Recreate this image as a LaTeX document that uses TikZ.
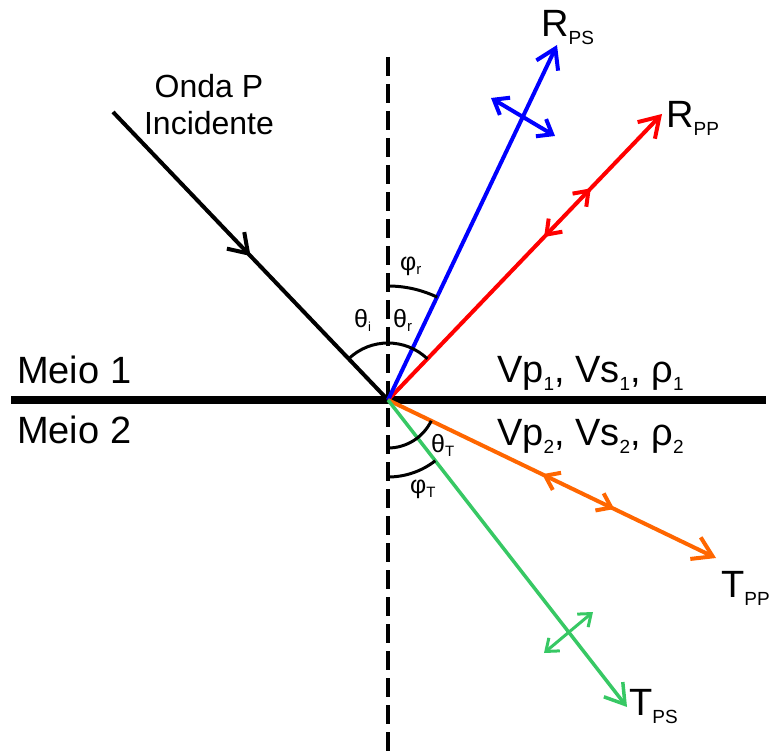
\documentclass[tikz,border=0pt]{standalone}
\usepackage{fontspec}
\setmainfont{Liberation Sans}
\usetikzlibrary{arrows.meta,decorations.markings}
\definecolor{myorange}{RGB}{255,102,0}
\definecolor{mygreen}{RGB}{55,200,100}
\newcommand\sbx[3][19]{\raisebox{-#2pt}{\fontsize{#1}{#1}\selectfont #3}}
\begin{document}
\begin{tikzpicture}[x=1pt,y=-1pt,
  lbl/.style={inner sep=0pt,anchor=base west,font=\fontsize{38}{44}\selectfont},
  anglbl/.style={inner sep=0pt,anchor=base west,font=\fontsize{25}{28}\selectfont},
  ray/.style={line width=4pt},
  bigtip/.tip={Straight Barb[length=19pt,width=24pt]},
  midtip/.tip={Straight Barb[length=13pt,width=19pt]},
  smalltip/.tip={Straight Barb[length=13pt,width=20pt]},
  arcline/.style={line width=3pt},
]
\useasboundingbox (0,0) rectangle (771,751);
\coordinate (O) at (388,400);
\coordinate (A) at (113,112);
\coordinate (Rps) at (557,45);
\coordinate (Rpp) at (662,114);
\coordinate (Tpp) at (716,558);
\coordinate (Tps) at (627,707);
\coordinate (Ltop) at (388,57);
\coordinate (Lbot) at (388,751);
\coordinate (Hl) at (11,400);
\coordinate (Hr) at (766,400);
\coordinate (b1) at (491,98);
\coordinate (b2) at (555,136);
\coordinate (g1) at (544,653);
\coordinate (g2) at (593,612);

% interface and normal
\draw[line width=3.5pt,dash pattern=on 19pt off 8pt] (Ltop) -- (Lbot);
\draw[line width=8pt] (Hl) -- (Hr);

% incident
\draw[ray,postaction={decorate},decoration={markings,mark=at position 0.5 with {\arrow{Straight Barb[length=18pt,width=24pt]}}}] (A) -- (O);

% reflected P (red)
\draw[ray,red,-bigtip,postaction={decorate},decoration={markings,
   mark=at position 0.57 with {\arrowreversed{midtip}},
   mark=at position 0.74 with {\arrow{midtip}}}] (O) -- (Rpp);
% reflected S (blue)
\draw[ray,blue,-bigtip] (O) -- (Rps);
\draw[ray,blue,smalltip-smalltip] (b1) -- (b2);
% transmitted P (orange)
\draw[ray,myorange,-bigtip,postaction={decorate},decoration={markings,
   mark=at position 0.47 with {\arrowreversed{midtip}},
   mark=at position 0.69 with {\arrow{midtip}}}] (O) -- (Tpp);
% transmitted S (green)
\draw[line width=3.5pt,mygreen,-bigtip] (O) -- (Tps);
\draw[line width=3pt,mygreen,{Straight Barb[length=11pt,width=17pt]}-{Straight Barb[length=11pt,width=17pt]}] (g1) -- (g2);

% angle arcs
\draw[arcline] ([shift={(-133.7:57)}]O) arc[start angle=-133.7,end angle=-46.2,radius=57];
\draw[arcline] ([shift={(-90:114)}]O) arc[start angle=-90,end angle=-64.4,radius=114];
\draw[arcline] ([shift={(90:48)}]O) arc[start angle=90,end angle=25.7,radius=48];
\draw[arcline] ([shift={(90:77)}]O) arc[start angle=90,end angle=52.1,radius=77];

% labels
\node[inner sep=0pt,anchor=base,font=\fontsize{32}{36}\selectfont] (onda) at (209,98) {Onda P};
\node[inner sep=0pt,anchor=base,font=\fontsize{32}{36}\selectfont] (inc) at (209,135) {Incidente};
\node[lbl] (m1) at (17,383) {Meio 1};
\node[lbl] (m2) at (17,443) {Meio 2};
\node[lbl] (v1) at (497,382) {Vp\sbx{8}{1}, Vs\sbx{8}{1}, ρ\sbx{8}{1}};
\node[lbl] (v2) at (497,445) {Vp\sbx{8}{2}, Vs\sbx{8}{2}, ρ\sbx{8}{2}};
\node[lbl] (lrps) at (541,37) {R\sbx{8}{PS}};
\node[lbl] (lrpp) at (666,128) {R\sbx{8}{PP}};
\node[lbl] (ltpp) at (721,597) {T\sbx{8}{PP}};
\node[lbl] (ltps) at (629,715) {T\sbx{8}{PS}};
\node[anglbl] (thi) at (354,327) {θ\sbx[13]{4}{i}};
\node[anglbl] (thr) at (393,327) {θ\sbx[15]{4}{r}};
\node[anglbl] (phr) at (400,271) {φ\sbx[15]{4}{r}};
\node[anglbl] (tht) at (431,452) {θ\sbx[15]{4}{T}};
\node[anglbl] (pht) at (410,493) {φ\sbx[15]{4}{T}};
\end{tikzpicture}
\end{document}
